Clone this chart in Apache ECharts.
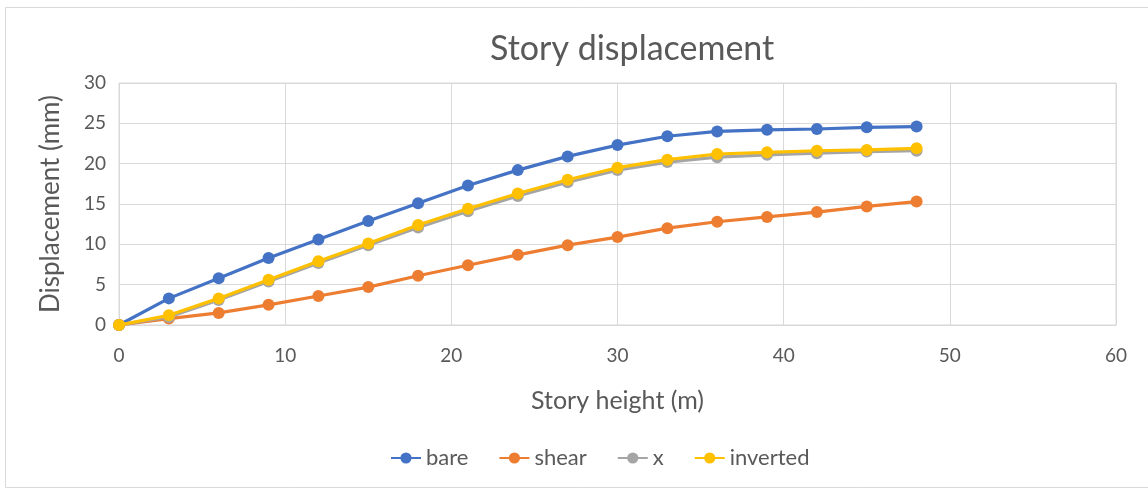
<!DOCTYPE html>
<html>
<head>
<meta charset="utf-8">
<script src="https://cdn.jsdelivr.net/npm/echarts@6/dist/echarts.min.js"></script>
<style>
  html, body { margin: 0; padding: 0; background: #fff; }
  #chart { width: 1148px; height: 495px; }
</style>
</head>
<body>
<div id="chart"></div>
<script>
// Story heights (m) and displacement (mm) per bracing scheme
const storyHeight = [0, 3, 6, 9, 12, 15, 18, 21, 24, 27, 30, 33, 36, 39, 42, 45, 48];
const bare     = [0, 3.3, 5.8, 8.3, 10.6, 12.9, 15.1, 17.3, 19.2, 20.9, 22.3, 23.4, 24.0, 24.2, 24.3, 24.5, 24.6];
const shear    = [0, 0.8, 1.5, 2.5, 3.6, 4.7, 6.1, 7.4, 8.7, 9.9, 10.9, 12.0, 12.8, 13.4, 14.0, 14.7, 15.3];
const xBraced  = [0, 1.0, 3.1, 5.4, 7.7, 9.9, 12.1, 14.1, 16.0, 17.7, 19.2, 20.2, 20.8, 21.1, 21.3, 21.5, 21.6];
const inverted = [0, 1.2, 3.3, 5.6, 7.9, 10.1, 12.4, 14.4, 16.3, 18.0, 19.5, 20.5, 21.2, 21.4, 21.6, 21.7, 21.9];

const seriesNames = ['bare', 'shear', 'x', 'inverted'];
const seriesData = [bare, shear, xBraced, inverted];
const seriesColors = ['#4472c4', '#ed7d31', '#a5a5a5', '#ffc000'];

const FONT = 'Lato';
const TEXT = '#595959';

const chart = echarts.init(document.getElementById('chart'), null, { renderer: 'canvas' });

chart.setOption({
  backgroundColor: '#fff',
  animation: false,
  textStyle: { fontFamily: FONT },
  graphic: [{
    type: 'rect',
    shape: { x: 5.5, y: 7.5, width: 1150, height: 480 },
    style: { fill: 'none', stroke: '#d9d9d9', lineWidth: 1 },
    silent: true
  }],
  title: {
    text: 'Story displacement',
    left: 485,
    top: 27,
    textStyle: { fontFamily: FONT, fontSize: 34, fontWeight: 'normal', color: TEXT }
  },
  legend: {
    bottom: 21,
    left: 385,
    itemWidth: 30,
    itemHeight: 14,
    itemGap: 30,
    textStyle: { fontFamily: FONT, fontSize: 22, color: TEXT },
    data: seriesNames
  },
  grid: { left: 119, right: 32, top: 83, bottom: 170, show: true, borderColor: '#d9d9d9', borderWidth: 1 },
  xAxis: {
    type: 'value',
    min: 0, max: 60, interval: 10,
    name: 'Story height (m)',
    nameLocation: 'middle',
    nameGap: 63,
    nameTextStyle: { fontFamily: FONT, fontSize: 25, color: TEXT },
    axisLine: { show: true, lineStyle: { color: '#d9d9d9' } },
    axisTick: { show: false },
    axisLabel: { fontFamily: FONT, fontSize: 19, color: TEXT, margin: 21 },
    splitLine: { show: true, lineStyle: { color: '#d9d9d9' } }
  },
  yAxis: {
    type: 'value',
    min: 0, max: 30, interval: 5,
    name: 'Displacement (mm)',
    nameLocation: 'middle',
    nameGap: 55,
    nameTextStyle: { fontFamily: FONT, fontSize: 26, color: TEXT },
    axisLine: { show: false },
    axisTick: { show: false },
    axisLabel: { fontFamily: FONT, fontSize: 19, color: TEXT, margin: 13 },
    splitLine: { show: true, lineStyle: { color: '#d9d9d9' } }
  },
  series: seriesNames.map((name, i) => ({
    name,
    type: 'line',
    data: storyHeight.map((h, k) => [h, seriesData[i][k]]),
    symbol: 'circle',
    symbolSize: 12,
    lineStyle: { width: 3.2, color: seriesColors[i] },
    itemStyle: { color: seriesColors[i] },
    z: 2 + i
  }))
});
</script>
</body>
</html>
